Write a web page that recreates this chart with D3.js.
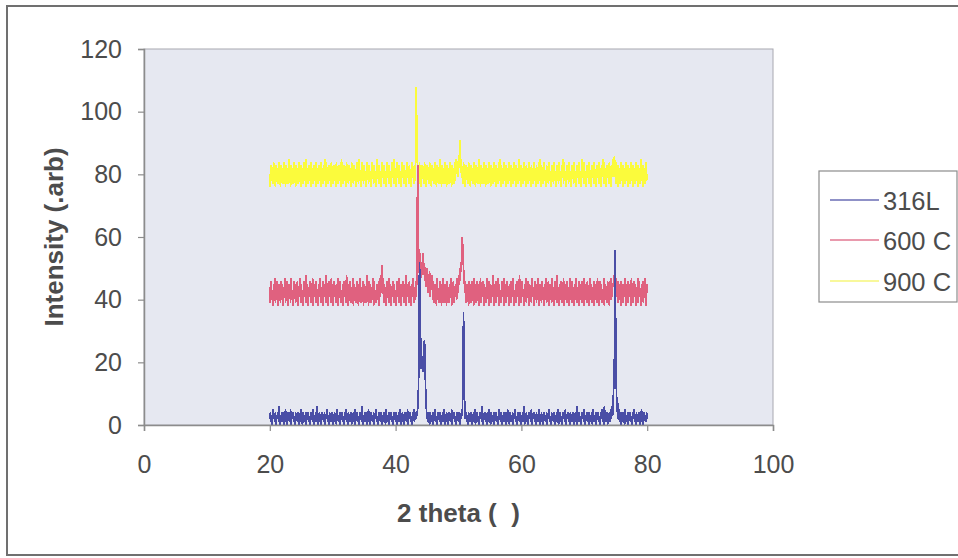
<!DOCTYPE html>
<html>
<head>
<meta charset="utf-8">
<script src="https://cdn.jsdelivr.net/npm/d3@7"></script>
<style>
  html, body { margin: 0; padding: 0; background: #fff; }
  svg { display: block; }
  text { font-family: "Liberation Sans", Arial, sans-serif; }
</style>
</head>
<body>
<svg id="chart" width="958" height="558"></svg>
<script>
// XRD scans: 2 theta from 20 to 80 degrees, 0.1 degree step (one row = 2 degrees)
const scanStart = 20;
const scanStep = 0.1;

const seriesNames = ["316L", "600 C", "900 C"];
const xTickValues = [0, 20, 40, 60, 80, 100];
const yTickValues = [0, 20, 40, 60, 80, 100, 120];

// 316L (as received)
const s316L = [
  2,4,1,3,0,5,2,3,1,4,0,3,2,4,1,6,0,3,2,4,
  1,3,0,4,2,5,1,3,0,4,2,3,1,5,0,3,2,4,1,3,
  0,4,2,3,1,4,0,3,2,5,1,3,0,4,2,3,1,4,0,3,
  2,4,1,3,0,4,2,3,1,5,0,3,2,4,1,6,0,3,2,4,
  1,3,0,4,2,3,1,4,0,3,2,5,1,3,0,4,2,3,1,4,
  0,3,2,4,1,3,0,5,2,3,1,4,0,3,2,4,1,3,0,4,
  2,5,1,3,0,4,2,3,1,4,0,3,2,4,1,5,0,3,2,4,
  1,3,0,4,2,3,1,6,0,3,2,4,1,3,0,4,2,5,1,3,
  0,4,2,3,1,4,0,3,2,5,1,3,0,4,2,3,1,4,0,3,
  2,4,1,3,0,5,2,3,1,4,0,3,2,4,1,3,0,4,2,3,
  1,4,0,3,2,4,1,5,0,3,2,4,1,3,0,4,2,3,1,5,
  0,3,2,4,1,3,0,4,2,5,1,3,2,4,3,5,8,20,52,40,
  24,18,22,17,21,25,27,18,9,5,2,4,1,3,0,4,2,3,1,4,
  0,3,2,5,1,3,0,4,2,3,1,4,0,3,2,4,1,5,0,3,
  2,4,1,3,0,4,2,3,1,5,0,3,2,4,1,3,0,4,2,3,
  1,4,0,3,2,5,3,12,36,14,5,2,4,1,3,0,4,2,3,1,
  4,0,3,2,4,1,5,0,3,2,4,1,3,0,4,2,3,1,6,0,
  3,2,4,1,3,0,4,2,5,1,3,0,4,2,3,1,4,0,3,2,
  4,1,3,0,5,2,3,1,4,0,3,2,4,1,3,0,4,2,5,1,
  3,0,4,2,3,1,4,0,3,2,5,1,3,0,4,2,3,1,4,0,
  3,2,4,1,6,0,3,2,4,1,3,0,4,2,3,1,5,0,3,2,
  4,1,3,0,4,2,3,1,5,0,3,2,4,1,3,0,4,2,3,1,
  4,0,3,2,5,1,3,0,4,2,3,1,4,0,3,2,4,1,5,0,
  3,2,4,1,3,0,4,2,3,1,5,0,3,2,4,1,3,0,4,2,
  3,1,4,0,3,2,4,1,6,0,3,2,4,1,3,0,4,2,3,1,
  5,0,3,2,4,1,3,0,4,2,3,1,4,0,5,2,3,1,4,0,
  3,2,4,1,3,0,4,2,5,1,3,0,6,2,3,1,4,0,3,2,
  4,1,5,2,6,3,8,14,22,56,28,12,4,7,2,5,1,3,0,4,
  2,4,1,3,0,5,2,3,1,4,0,3,2,4,1,3,0,4,2,5,
  1,3,0,4,2,3,1,4,0,3,2,5,1,3,0,4,2,3,1,4,
  2
];

// annealed at 600 C
const s600C = [
  44,39,46,40,43,38,45,41,47,39,44,40,46,38,45,41,43,39,46,40,
  45,38,44,41,47,39,43,40,46,38,45,41,44,39,47,40,43,38,46,41,
  44,39,45,40,46,38,44,41,47,39,45,40,43,38,46,41,44,39,48,40,
  45,38,43,41,46,39,44,40,47,38,45,41,44,39,46,40,43,38,45,41,
  47,39,44,40,46,38,45,41,43,39,48,40,44,38,46,41,45,39,47,40,
  43,38,46,41,44,39,45,40,47,38,44,41,46,39,43,40,45,38,46,41,
  44,39,48,40,45,38,43,41,46,39,44,40,47,38,45,41,44,39,46,40,
  43,38,45,41,47,39,44,40,46,38,45,41,43,39,48,40,44,38,46,41,
  45,39,44,40,47,38,46,41,43,39,45,40,44,38,46,41,48,42,51,43,
  47,39,45,40,44,38,46,41,43,39,47,40,45,38,44,41,46,39,45,40,
  43,38,46,41,44,39,47,40,45,38,43,41,46,39,44,40,48,38,45,41,
  44,39,46,40,43,38,45,41,47,39,44,40,46,41,50,83,62,52,48,55,
  50,47,52,48,55,49,51,46,48,44,50,42,47,45,49,41,46,43,48,40,
  46,39,45,41,44,38,47,40,43,39,46,41,45,38,44,40,47,39,45,41,
  43,38,46,40,44,39,45,41,47,38,44,40,46,39,43,41,45,40,47,42,
  44,48,46,50,49,54,60,56,50,47,42,46,39,45,41,44,38,46,40,45,
  39,46,41,44,38,47,40,45,39,46,41,43,38,45,40,47,39,44,41,46,
  38,45,40,44,39,47,41,43,38,46,40,45,39,44,41,48,38,45,40,46,
  39,44,41,47,38,45,40,43,39,46,41,44,38,47,40,45,39,46,41,43,
  38,45,40,46,39,44,41,47,38,43,40,45,39,46,41,44,38,48,40,45,
  39,46,41,43,38,45,40,47,39,44,41,46,38,45,40,43,39,47,41,44,
  38,46,40,45,39,44,41,47,38,45,40,43,39,46,41,44,38,45,40,47,
  39,44,41,46,38,45,40,43,39,47,41,44,38,46,40,45,39,48,41,44,
  38,45,40,46,39,43,41,47,38,44,40,45,39,46,41,44,38,47,40,45,
  39,46,41,44,38,45,40,47,39,43,41,46,38,45,40,44,39,46,41,47,
  38,44,40,45,39,46,41,43,38,47,40,45,39,44,41,46,38,45,40,43,
  39,47,41,44,38,46,40,45,39,43,41,47,38,45,40,44,39,46,41,45,
  38,46,40,47,41,45,44,48,47,50,46,45,41,46,39,44,40,45,38,46,
  40,45,39,44,41,47,38,45,40,46,39,43,41,45,38,47,40,44,39,46,
  41,45,38,44,40,47,39,46,41,43,38,45,40,46,39,44,41,47,38,45,
  42
];

// annealed at 900 C
const s900C = [
  80,76,83,78,82,77,84,79,81,76,83,78,82,77,84,79,81,76,83,78,
  82,77,84,78,81,76,83,79,82,77,85,78,81,76,83,79,82,77,84,78,
  81,76,83,79,82,77,84,78,81,76,83,79,82,77,84,78,81,76,85,79,
  82,77,83,78,81,76,84,79,82,77,83,78,81,76,84,79,82,77,83,78,
  81,76,84,79,82,77,83,78,85,76,84,79,82,77,83,78,81,76,84,79,
  82,77,83,78,81,76,84,79,82,77,83,78,81,76,85,79,82,77,83,78,
  81,76,84,79,82,77,83,78,81,76,84,79,82,77,83,78,81,76,84,79,
  82,77,85,78,81,76,84,79,82,77,83,78,81,76,84,79,82,77,83,78,
  81,76,84,79,82,77,83,78,81,76,85,79,82,77,83,78,81,76,84,79,
  82,77,83,78,81,76,84,79,82,77,83,78,81,76,84,79,82,77,85,78,
  81,76,84,79,82,77,83,78,81,76,84,79,82,77,83,78,81,76,84,79,
  82,77,83,78,81,76,84,79,82,77,83,78,85,108,86,83,82,77,84,78,
  81,76,83,79,82,77,84,78,81,76,83,79,82,77,84,78,81,76,83,79,
  82,77,84,78,81,76,83,79,82,77,85,78,81,76,83,79,82,77,84,78,
  81,76,83,79,82,77,84,78,81,76,83,79,82,77,84,78,85,80,84,79,
  85,82,91,86,83,79,82,77,84,78,81,76,83,79,82,77,84,78,81,76,
  83,79,82,77,84,78,81,76,83,79,82,77,85,78,81,76,83,79,82,77,
  84,78,81,76,83,79,82,77,84,78,81,76,83,79,82,77,84,78,81,76,
  83,79,82,77,84,78,85,76,83,79,82,77,84,78,81,76,83,79,82,77,
  84,78,81,76,83,79,82,77,84,78,81,76,83,79,82,77,85,78,81,76,
  83,79,82,77,84,78,81,76,83,79,82,77,84,78,81,76,83,79,82,77,
  84,78,81,76,83,79,82,77,84,78,85,76,83,79,82,77,84,78,81,76,
  83,79,82,77,84,78,81,76,83,79,82,77,84,78,81,76,83,79,82,77,
  84,78,81,76,83,79,85,77,84,78,81,76,83,79,82,77,84,78,81,76,
  83,79,82,77,84,78,81,76,83,79,82,77,84,78,81,76,85,79,82,77,
  84,78,81,76,83,79,82,77,84,78,81,76,83,79,82,77,84,78,81,76,
  83,79,82,77,84,78,81,76,83,79,85,77,84,78,81,76,83,79,82,77,
  84,78,81,76,83,79,85,80,86,79,84,77,82,76,83,79,82,77,84,78,
  81,76,83,79,82,77,84,78,81,76,83,79,82,77,84,78,81,76,83,79,
  82,77,84,78,81,76,83,79,82,77,85,78,81,76,83,79,82,77,84,78,
  80
];

const seriesValues = [s316L, s600C, s900C];
const seriesColors = ["#4a4ea6", "#e0617f", "#fbfb3c"];
const legendColors = ["#6a6cb4", "#e27892", "#f6f67a"];

const svg = d3.select("#chart");
const plot = { left: 144, top: 49, right: 773, bottom: 425 };
const textColor = "#4c4c4c";

// chart area frame
svg.append("rect")
  .attr("x", 7).attr("y", 6)
  .attr("width", 960).attr("height", 549)
  .attr("fill", "#fff")
  .attr("stroke", "#707070").attr("stroke-width", 2);

const x = d3.scaleLinear().domain([0, 100]).range([plot.left, plot.right]);
const y = d3.scaleLinear().domain([0, 120]).range([plot.bottom, plot.top]);

// plot area
svg.append("rect")
  .attr("x", plot.left).attr("y", plot.top)
  .attr("width", plot.right - plot.left).attr("height", plot.bottom - plot.top)
  .attr("fill", "#e6e8f1")
  .attr("stroke", "#a8a8b0").attr("stroke-width", 1);

// series, drawn so the 316L trace sits on top
const line = d3.line()
  .x((d, i) => x(scanStart + i * scanStep))
  .y(d => y(d));

[2, 1, 0].forEach(k => {
  svg.append("path")
    .datum(seriesValues[k])
    .attr("d", line)
    .attr("fill", "none")
    .attr("stroke", seriesColors[k])
    .attr("stroke-width", 1.8)
    .attr("stroke-linejoin", "bevel")
    .attr("shape-rendering", "crispEdges");
});

// axes
const yAxis = d3.axisLeft(y).tickValues(yTickValues).tickSize(6).tickPadding(16).tickFormat(d3.format("d"));
const xAxis = d3.axisBottom(x).tickValues(xTickValues).tickSize(6).tickPadding(24).tickFormat(d3.format("d"));

const gy = svg.append("g").attr("transform", `translate(${plot.left},0)`).call(yAxis);
const gx = svg.append("g").attr("transform", `translate(0,${plot.bottom})`).call(xAxis);

[gx, gy].forEach(g => {
  g.select(".domain").attr("stroke", "#8c8c8c").attr("stroke-width", 1.5);
  g.selectAll(".tick line").attr("stroke", "#8c8c8c").attr("stroke-width", 1.2);
  g.selectAll(".tick text")
    .attr("fill", textColor)
    .style("font-family", '"Liberation Sans", Arial, sans-serif')
    .style("font-size", "25px");
});

// axis titles
svg.append("text")
  .attr("x", (plot.left + plot.right) / 2)
  .attr("y", 522)
  .attr("text-anchor", "middle")
  .attr("fill", textColor)
  .style("font-size", "26px")
  .style("font-weight", "bold")
  .style("white-space", "pre")
  .text("2 theta (  )");

svg.append("text")
  .attr("transform", `translate(63,${(plot.top + plot.bottom) / 2}) rotate(-90)`)
  .attr("text-anchor", "middle")
  .attr("fill", textColor)
  .style("font-size", "26px")
  .style("font-weight", "bold")
  .text("Intensity (.arb)");

// legend
const legend = svg.append("g");
legend.append("rect")
  .attr("x", 819).attr("y", 171)
  .attr("width", 138).attr("height", 131)
  .attr("fill", "#fff")
  .attr("stroke", "#8c8c8c").attr("stroke-width", 1.2);

const rowY = [200, 240, 281];
seriesNames.forEach((name, k) => {
  legend.append("line")
    .attr("x1", 830).attr("x2", 879)
    .attr("y1", rowY[k]).attr("y2", rowY[k])
    .attr("stroke", legendColors[k]).attr("stroke-width", 1.5);
  legend.append("text")
    .attr("x", 883).attr("y", rowY[k] + 10)
    .attr("fill", textColor)
    .style("font-size", "25.5px")
    .text(name);
});
</script>
</body>
</html>
